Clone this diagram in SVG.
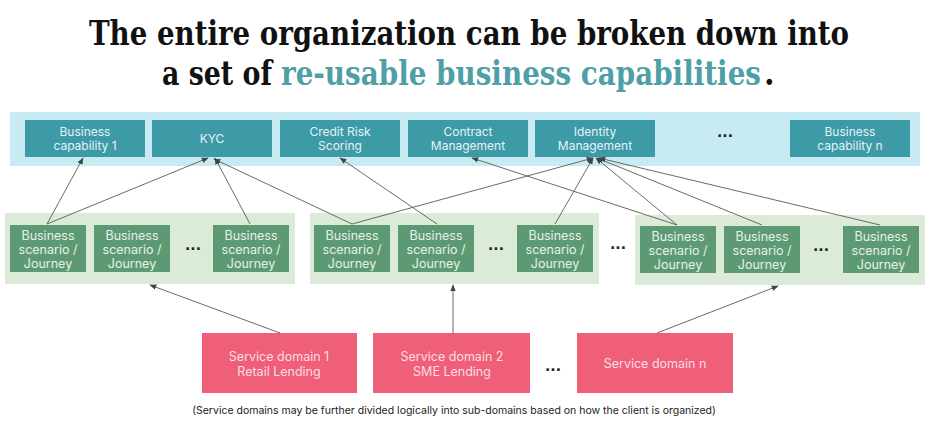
<svg xmlns="http://www.w3.org/2000/svg" width="941" height="438" viewBox="0 0 941 438">
<style>
.title{font-family:"DejaVu Serif","Liberation Serif",serif;font-weight:bold;font-size:34px;fill:#111;font-stretch:condensed}
.hl{fill:#4f9fa6}
.cap{fill:#3d9aa7}
.capt{font-family:Inter,"Liberation Sans",sans-serif;font-size:12px;fill:#e3f3f5;text-anchor:middle}
.band{fill:#c8ebf3}
.gband{fill:#dcebd7}
.scn{fill:#5d9a73}
.scnt{font-family:Inter,"Liberation Sans",sans-serif;font-size:12.5px;fill:#e6f1e9;text-anchor:middle}
.sd{fill:#ef6078}
.sdt{font-family:Inter,"Liberation Sans",sans-serif;font-size:12.5px;fill:#fcdde2;text-anchor:middle}
.dots{font-family:"DejaVu Sans",sans-serif;font-size:14px;font-weight:bold;fill:#222;text-anchor:middle}
.cn{stroke:#5a5a5a;stroke-width:0.9;fill:none;marker-end:url(#ah)}
.note{font-family:Inter,"Liberation Sans",sans-serif;font-size:10.5px;fill:#222;text-anchor:middle}
</style>
<defs>
<marker id="ah" viewBox="0 0 10 10" refX="9" refY="5" markerWidth="7" markerHeight="7" orient="auto" markerUnits="userSpaceOnUse">
<path d="M0,1 L10,5 L0,9 z" fill="#444"/>
</marker>
</defs>
<rect width="941" height="438" fill="#ffffff"/>
<g id="title">
<text class="title" x="469" y="45" text-anchor="middle" textLength="760" lengthAdjust="spacingAndGlyphs">The entire organization can be broken down into</text>
<text class="title" x="162" y="85" textLength="110" lengthAdjust="spacingAndGlyphs">a set of</text>
<text class="title hl" x="281" y="85" textLength="480" lengthAdjust="spacingAndGlyphs">re-usable business capabilities</text>
<text class="title" x="764" y="85">.</text>
</g>
<g id="capability-band"><rect class="band" x="10" y="112" width="910" height="54"/></g>
<g id="cap1"><rect class="cap" x="25" y="120" width="120" height="37"/><text class="capt" x="85" y="136">Business</text><text class="capt" x="85" y="150">capability 1</text></g>
<g id="cap-kyc"><rect class="cap" x="152" y="120" width="120" height="37"/><text class="capt" x="212" y="143">KYC</text></g>
<g id="cap-credit"><rect class="cap" x="280" y="120" width="120" height="37"/><text class="capt" x="340" y="136">Credit Risk</text><text class="capt" x="340" y="150">Scoring</text></g>
<g id="cap-contract"><rect class="cap" x="408" y="120" width="120" height="37"/><text class="capt" x="468" y="136">Contract</text><text class="capt" x="468" y="150">Management</text></g>
<g id="cap-identity"><rect class="cap" x="535" y="120" width="120" height="37"/><text class="capt" x="595" y="136">Identity</text><text class="capt" x="595" y="150">Management</text></g>
<g id="cap-dots"><text class="dots" x="725" y="141">···</text></g>
<g id="capn"><rect class="cap" x="790" y="120" width="120" height="37"/><text class="capt" x="850" y="136">Business</text><text class="capt" x="850" y="150">capability n</text></g>

<g id="group1"><rect class="gband" x="5" y="213" width="290" height="71"/></g>
<g id="group2"><rect class="gband" x="310" y="213" width="289" height="71"/></g>
<g id="group3"><rect class="gband" x="635" y="215" width="290" height="70"/></g>

<g id="s1a"><rect class="scn" x="10" y="225" width="76" height="47"/><text class="scnt" x="48" y="240">Business</text><text class="scnt" x="48" y="254">scenario /</text><text class="scnt" x="48" y="268">Journey</text></g>
<g id="s1b"><rect class="scn" x="94" y="225" width="76" height="47"/><text class="scnt" x="132" y="240">Business</text><text class="scnt" x="132" y="254">scenario /</text><text class="scnt" x="132" y="268">Journey</text></g>
<g id="s1dots"><text class="dots" x="193" y="254">···</text></g>
<g id="s1c"><rect class="scn" x="213" y="225" width="76" height="47"/><text class="scnt" x="251" y="240">Business</text><text class="scnt" x="251" y="254">scenario /</text><text class="scnt" x="251" y="268">Journey</text></g>

<g id="s2a"><rect class="scn" x="314" y="225" width="76" height="47"/><text class="scnt" x="352" y="240">Business</text><text class="scnt" x="352" y="254">scenario /</text><text class="scnt" x="352" y="268">Journey</text></g>
<g id="s2b"><rect class="scn" x="398" y="225" width="76" height="47"/><text class="scnt" x="436" y="240">Business</text><text class="scnt" x="436" y="254">scenario /</text><text class="scnt" x="436" y="268">Journey</text></g>
<g id="s2dots"><text class="dots" x="496" y="254">···</text></g>
<g id="s2c"><rect class="scn" x="517" y="225" width="76" height="47"/><text class="scnt" x="555" y="240">Business</text><text class="scnt" x="555" y="254">scenario /</text><text class="scnt" x="555" y="268">Journey</text></g>

<g id="group-dots"><text class="dots" x="618" y="253">···</text></g>

<g id="s3a"><rect class="scn" x="640" y="226" width="76" height="47"/><text class="scnt" x="678" y="241">Business</text><text class="scnt" x="678" y="255">scenario /</text><text class="scnt" x="678" y="269">Journey</text></g>
<g id="s3b"><rect class="scn" x="724" y="226" width="76" height="47"/><text class="scnt" x="762" y="241">Business</text><text class="scnt" x="762" y="255">scenario /</text><text class="scnt" x="762" y="269">Journey</text></g>
<g id="s3dots"><text class="dots" x="821" y="255">···</text></g>
<g id="s3c"><rect class="scn" x="843" y="226" width="76" height="47"/><text class="scnt" x="881" y="241">Business</text><text class="scnt" x="881" y="255">scenario /</text><text class="scnt" x="881" y="269">Journey</text></g>

<g id="sd1"><rect class="sd" x="202" y="333" width="155" height="60"/><text class="sdt" x="279" y="361">Service domain 1</text><text class="sdt" x="279" y="376">Retail Lending</text></g>
<g id="sd2"><rect class="sd" x="373" y="333" width="157" height="60"/><text class="sdt" x="452" y="361">Service domain 2</text><text class="sdt" x="452" y="376">SME Lending</text></g>
<g id="sd-dots"><text class="dots" x="553" y="375">···</text></g>
<g id="sdn"><rect class="sd" x="577" y="333" width="156" height="60"/><text class="sdt" x="655" y="368">Service domain n</text></g>

<g id="note"><text class="note" x="454" y="414">(Service domains may be further divided logically into sub-domains based on how the client is organized)</text></g>

<g id="connectors">
<line class="cn" x1="47" y1="224" x2="83" y2="158"/>
<line class="cn" x1="47" y1="224" x2="208" y2="158"/>
<line class="cn" x1="250" y1="224" x2="215" y2="158"/>
<line class="cn" x1="352" y1="224" x2="214" y2="159"/>
<line class="cn" x1="352" y1="224" x2="593" y2="158"/>
<line class="cn" x1="437" y1="224" x2="340" y2="158"/>
<line class="cn" x1="555" y1="224" x2="593" y2="158"/>
<line class="cn" x1="677" y1="225" x2="472" y2="158"/>
<line class="cn" x1="677" y1="225" x2="596" y2="158"/>
<line class="cn" x1="762" y1="225" x2="597" y2="158"/>
<line class="cn" x1="880" y1="225" x2="599" y2="158"/>
<line class="cn" x1="280" y1="333" x2="150" y2="285"/>
<line class="cn" x1="453" y1="333" x2="453" y2="285"/>
<line class="cn" x1="657" y1="333" x2="778" y2="286"/>
</g>
</svg>
